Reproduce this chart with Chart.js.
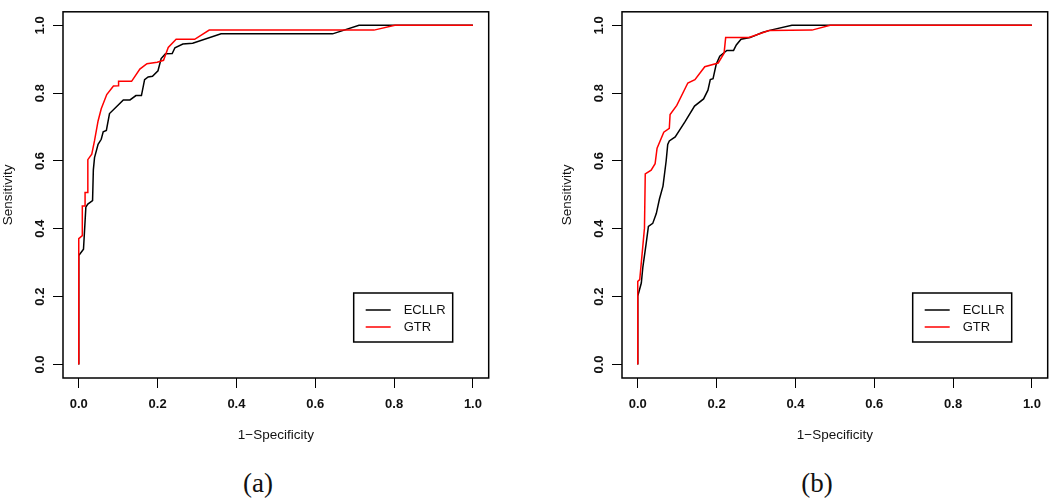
<!DOCTYPE html>
<html>
<head>
<meta charset="utf-8">
<script src="https://cdn.jsdelivr.net/npm/chart.js@4.4.1/dist/chart.umd.min.js"></script>
<style>
  body { margin: 0; background: #fff; }
  #wrap { position: relative; width: 1050px; height: 501px; overflow: hidden; }
  canvas { position: absolute; top: 0; }
  .cap { position: absolute; top: 468px; line-height: 30px; font-family: "Liberation Serif", serif; font-size: 27px; color: #111; transform: translateX(-50%); }
</style>
</head>
<body>
<div id="wrap">
  <canvas id="rocA" width="491" height="460" style="left:0px"></canvas>
  <canvas id="rocB" width="491" height="460" style="left:559px"></canvas>
  <div class="cap" style="left:258px">(a)</div>
  <div class="cap" style="left:817px">(b)</div>
</div>
<script>
// tick labels
const tickVals = [0, 0.2, 0.4, 0.6, 0.8, 1.0];
const seriesNames = ['ECLLR', 'GTR'];
const seriesColors = ['#000000', '#ff0000'];

// panel (a)
const fprA_ecllr = [0, 0, 0.012, 0.018, 0.023, 0.035, 0.037, 0.040, 0.049, 0.057, 0.062, 0.070, 0.078, 0.095, 0.113, 0.130, 0.145, 0.159, 0.167, 0.176, 0.187, 0.201, 0.209, 0.220, 0.237, 0.244, 0.264, 0.289, 0.361, 0.644, 0.711, 1.0];
const tprA_ecllr = [0, 0.321, 0.340, 0.464, 0.473, 0.483, 0.574, 0.610, 0.649, 0.664, 0.686, 0.690, 0.740, 0.759, 0.780, 0.780, 0.793, 0.793, 0.840, 0.848, 0.850, 0.866, 0.902, 0.916, 0.917, 0.934, 0.945, 0.947, 0.975, 0.975, 1.0, 1.0];
const fprA_gtr = [0, 0, 0.009, 0.009, 0.016, 0.016, 0.023, 0.023, 0.033, 0.040, 0.049, 0.057, 0.071, 0.088, 0.100, 0.101, 0.134, 0.155, 0.173, 0.199, 0.215, 0.227, 0.247, 0.294, 0.331, 0.749, 0.802, 1.0];
const tprA_gtr = [0, 0.371, 0.380, 0.467, 0.467, 0.507, 0.507, 0.604, 0.620, 0.660, 0.718, 0.754, 0.796, 0.821, 0.822, 0.835, 0.835, 0.871, 0.887, 0.891, 0.897, 0.935, 0.959, 0.959, 0.986, 0.986, 1.0, 1.0];

// panel (b)
const fprB_ecllr = [0, 0, 0.009, 0.013, 0.021, 0.027, 0.038, 0.047, 0.055, 0.064, 0.072, 0.076, 0.080, 0.095, 0.120, 0.144, 0.167, 0.178, 0.184, 0.191, 0.199, 0.208, 0.226, 0.243, 0.250, 0.262, 0.285, 0.316, 0.337, 0.391, 1.0];
const tprB_ecllr = [0, 0.202, 0.240, 0.288, 0.354, 0.407, 0.416, 0.445, 0.488, 0.526, 0.600, 0.649, 0.659, 0.671, 0.716, 0.762, 0.783, 0.809, 0.840, 0.843, 0.885, 0.909, 0.926, 0.926, 0.942, 0.959, 0.964, 0.979, 0.986, 1.0, 1.0];
const fprB_gtr = [0, 0, 0.005, 0.017, 0.019, 0.034, 0.044, 0.049, 0.066, 0.080, 0.082, 0.099, 0.127, 0.145, 0.170, 0.204, 0.219, 0.223, 0.282, 0.333, 0.442, 0.488, 1.0];
const tprB_gtr = [0, 0.245, 0.250, 0.402, 0.562, 0.573, 0.592, 0.638, 0.685, 0.696, 0.737, 0.764, 0.830, 0.840, 0.878, 0.889, 0.918, 0.964, 0.964, 0.985, 0.986, 1.0, 1.0];

const pts = (xs, ys) => xs.map((x, i) => ({x: x, y: ys[i]}));

// R style box round the plot region
const boxPlugin = {
  id: 'rBox',
  afterDraw(chart) {
    const {ctx, chartArea: a} = chart;
    ctx.save();
    ctx.strokeStyle = '#000';
    ctx.lineWidth = 1.5;
    ctx.strokeRect(a.left, a.top, a.right - a.left, a.bottom - a.top);
    ctx.restore();
  }
};

// bottomright legend like R's legend()
const legendPlugin = {
  id: 'rLegend',
  afterDraw(chart) {
    const {ctx, chartArea: a} = chart;
    const w = 99, h = 49;
    const x0 = a.right - 36 - w, y0 = a.bottom - 36 - h;
    ctx.save();
    ctx.fillStyle = '#fff';
    ctx.fillRect(x0, y0, w, h);
    ctx.strokeStyle = '#000';
    ctx.lineWidth = 1.5;
    ctx.strokeRect(x0, y0, w, h);
    ctx.font = '13px "Liberation Sans", Arial, sans-serif';
    ctx.textBaseline = 'middle';
    chart.data.datasets.forEach((ds, i) => {
      const yy = y0 + 17 + i * 17;
      ctx.strokeStyle = ds.borderColor;
      ctx.lineWidth = 1.5;
      ctx.beginPath();
      ctx.moveTo(x0 + 12, yy);
      ctx.lineTo(x0 + 37, yy);
      ctx.stroke();
      ctx.fillStyle = '#111';
      ctx.fillText(ds.label, x0 + 50, yy);
    });
    ctx.restore();
  }
};

function makeRoc(id, curves) {
  new Chart(document.getElementById(id), {
    type: 'scatter',
    data: {
      datasets: curves.map((c, i) => ({
        label: seriesNames[i],
        data: c,
        showLine: true,
        borderColor: seriesColors[i],
        borderWidth: 1.5,
        pointRadius: 0,
        tension: 0,
        fill: false,
        order: 1 - i
      }))
    },
    options: {
      responsive: false,
      animation: false,
      events: [],
      layout: {padding: {top: 1, right: 1, left: 0, bottom: 0}},
      plugins: {legend: {display: false}, tooltip: {enabled: false}},
      scales: {
        x: {
          type: 'linear',
          min: -0.04,
          max: 1.04,
          afterBuildTicks: s => { s.ticks = tickVals.map(v => ({value: v})); },
          afterFit: s => { s.height = 82; },
          grid: {drawOnChartArea: false, drawTicks: true, tickLength: 10, color: '#000', lineWidth: 1},
          border: {display: false},
          ticks: {
            padding: 9,
            color: '#111',
            maxRotation: 0,
            font: {family: '"Liberation Sans", Arial, sans-serif', size: 13, weight: 'bold'},
            callback: v => v.toFixed(1)
          },
          title: {
            display: true,
            text: '1\u2212Specificity',
            color: '#111',
            padding: {top: 0, bottom: 17},
            font: {family: '"Liberation Sans", Arial, sans-serif', size: 13.5}
          }
        },
        y: {
          type: 'linear',
          min: -0.04,
          max: 1.04,
          afterBuildTicks: s => { s.ticks = tickVals.map(v => ({value: v})); },
          afterFit: s => { s.width = 63; },
          grid: {drawOnChartArea: false, drawTicks: true, tickLength: 10, color: '#000', lineWidth: 1},
          border: {display: false},
          ticks: {
            padding: 4,
            color: '#111',
            minRotation: 90,
            maxRotation: 90,
            crossAlign: 'center',
            font: {family: '"Liberation Sans", Arial, sans-serif', size: 13, weight: 'bold'},
            callback: v => v.toFixed(1)
          },
          title: {
            display: true,
            text: 'Sensitivity',
            color: '#111',
            padding: {top: 0, bottom: 0},
            font: {family: '"Liberation Sans", Arial, sans-serif', size: 13.5}
          }
        }
      }
    },
    plugins: [boxPlugin, legendPlugin]
  });
}

makeRoc('rocA', [pts(fprA_ecllr, tprA_ecllr), pts(fprA_gtr, tprA_gtr)]);
makeRoc('rocB', [pts(fprB_ecllr, tprB_ecllr), pts(fprB_gtr, tprB_gtr)]);
</script>
</body>
</html>
